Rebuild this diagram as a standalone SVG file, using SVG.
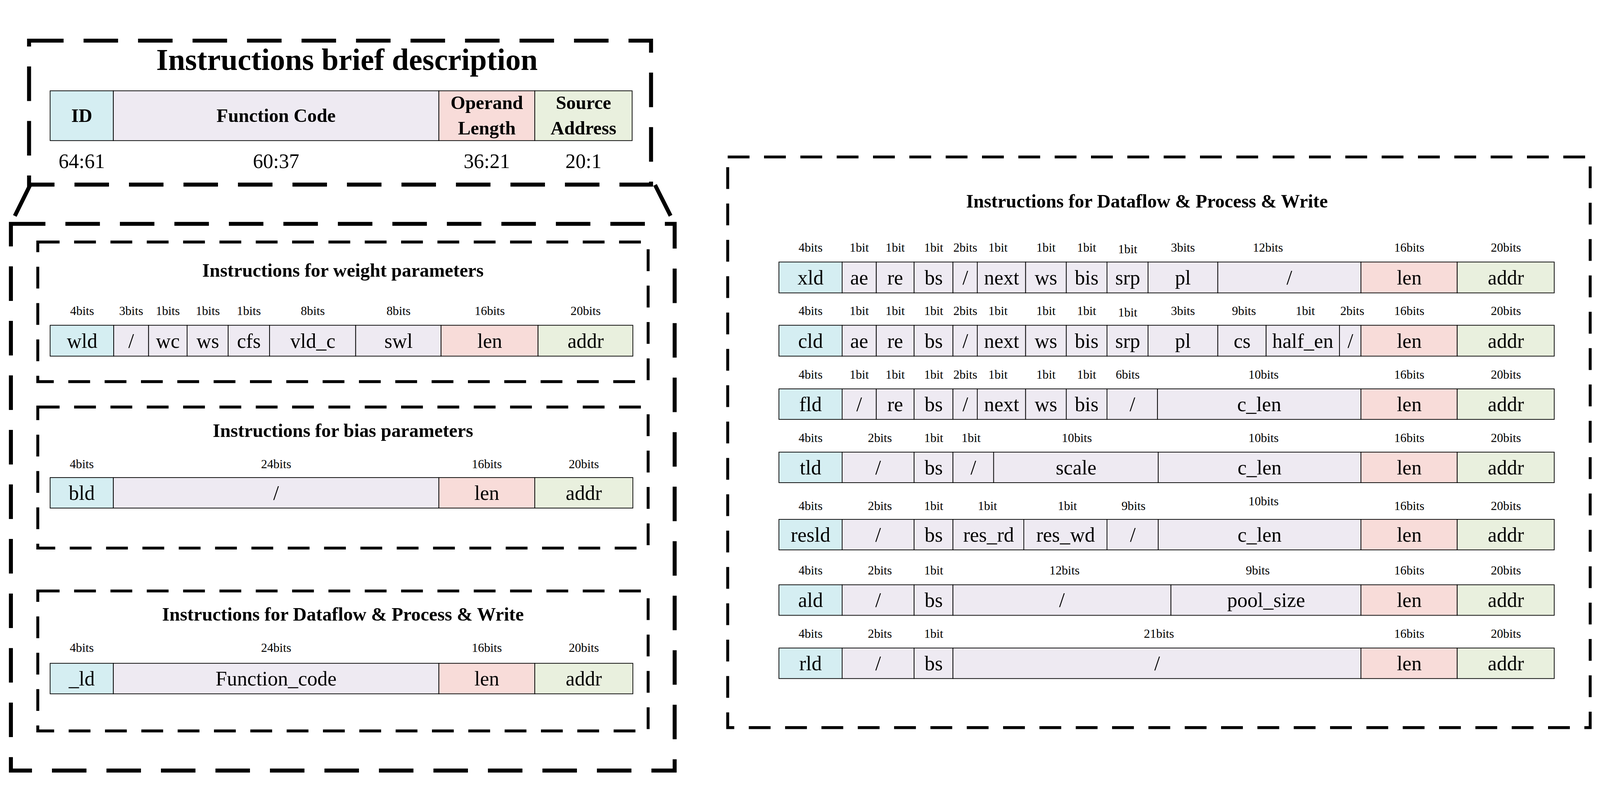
<svg xmlns="http://www.w3.org/2000/svg" width="4404" height="2070" viewBox="0 0 4404 2070" style="width:100vw;height:100vh;display:block" preserveAspectRatio="xMidYMid meet">
<style>
text{font-family:"Liberation Serif","Times New Roman",serif;fill:#000}
.c{fill:#d5eef2;stroke:#000;stroke-width:2}
.p{fill:#eeeaf2;stroke:#000;stroke-width:2}
.r{fill:#f8dcd9;stroke:#000;stroke-width:2}
.g{fill:#e9f0de;stroke:#000;stroke-width:2}
.t{font-size:56px;text-anchor:middle}
.b{font-size:34px;text-anchor:middle}
.h{font-size:52px;font-weight:bold;text-anchor:middle}
.box{fill:none;stroke:#000;stroke-width:8;stroke-dasharray:60 40}
.big{fill:none;stroke:#000;stroke-width:11;stroke-dasharray:95 55}
</style>
<g id="frames">
<rect class="big" x="80" y="34" width="1712" height="396"/>
<path class="big" d="M83 431 L30 538 M1803 431 L1857 538" stroke-dasharray="none"/>
<rect class="big" x="30" y="538" width="1827" height="1504"/>
<rect class="box" x="2003" y="354" width="2374" height="1570"/>
</g>
<g id="brief">
<text x="955" y="115" style="font-size:84px;font-weight:bold;text-anchor:middle">Instructions brief description</text>
<rect class="c" x="138" y="172" width="174" height="137"/>
<rect class="p" x="312" y="172" width="896" height="137"/>
<rect class="r" x="1208" y="172" width="264" height="137"/>
<rect class="g" x="1472" y="172" width="268" height="137"/>
<text class="h" x="225" y="258">ID</text>
<text class="h" x="760" y="258">Function Code</text>
<text class="h" x="1340" y="222">Operand</text>
<text class="h" x="1340" y="292">Length</text>
<text class="h" x="1606" y="222">Source</text>
<text class="h" x="1606" y="292">Address</text>
<text class="t" x="225" y="385">64:61</text>
<text class="t" x="760" y="385">60:37</text>
<text class="t" x="1340" y="385">36:21</text>
<text class="t" x="1606" y="385">20:1</text>
</g>
<g id="weight">
<rect class="box" x="104" y="588" width="1680" height="384"/>
<text class="h" x="944" y="683">Instructions for weight parameters</text>
<rect class="c" x="138" y="817" width="175" height="85"/><rect class="p" x="313" y="817" width="96" height="85"/><rect class="p" x="409" y="817" width="106" height="85"/><rect class="p" x="515" y="817" width="113" height="85"/><rect class="p" x="628" y="817" width="114" height="85"/><rect class="p" x="742" y="817" width="237" height="85"/><rect class="p" x="979" y="817" width="235" height="85"/><rect class="r" x="1214" y="817" width="267" height="85"/><rect class="g" x="1481" y="817" width="261" height="85"/>
<text class="t" x="226" y="879">wld</text><text class="t" x="361" y="879">/</text><text class="t" x="462" y="879">wc</text><text class="t" x="572" y="879">ws</text><text class="t" x="685" y="879">cfs</text><text class="t" x="861" y="879">vld_c</text><text class="t" x="1097" y="879">swl</text><text class="t" x="1348" y="879">len</text><text class="t" x="1612" y="879">addr</text>
<text class="b" x="226" y="789">4bits</text><text class="b" x="361" y="789">3bits</text><text class="b" x="462" y="789">1bits</text><text class="b" x="572" y="789">1bits</text><text class="b" x="685" y="789">1bits</text><text class="b" x="861" y="789">8bits</text><text class="b" x="1097" y="789">8bits</text><text class="b" x="1348" y="789">16bits</text><text class="b" x="1612" y="789">20bits</text>
</g>
<g id="bias">
<rect class="box" x="104" y="1042" width="1680" height="388"/>
<text class="h" x="944" y="1124">Instructions for bias parameters</text>
<rect class="c" x="138" y="1236" width="174" height="84"/><rect class="p" x="312" y="1236" width="896" height="84"/><rect class="r" x="1208" y="1236" width="264" height="84"/><rect class="g" x="1472" y="1236" width="270" height="84"/>
<text class="t" x="225" y="1297">bld</text><text class="t" x="760" y="1297">/</text><text class="t" x="1340" y="1297">len</text><text class="t" x="1607" y="1297">addr</text>
<text class="b" x="225" y="1210">4bits</text><text class="b" x="760" y="1210">24bits</text><text class="b" x="1340" y="1210">16bits</text><text class="b" x="1607" y="1210">20bits</text>
</g>
<g id="dpw-left">
<rect class="box" x="104" y="1548" width="1680" height="385"/>
<text class="h" x="944" y="1630">Instructions for Dataflow &amp; Process &amp; Write</text>
<rect class="c" x="138" y="1747" width="174" height="84"/><rect class="p" x="312" y="1747" width="896" height="84"/><rect class="r" x="1208" y="1747" width="264" height="84"/><rect class="g" x="1472" y="1747" width="270" height="84"/>
<text class="t" x="225" y="1808">_ld</text><text class="t" x="760" y="1808">Function_code</text><text class="t" x="1340" y="1808">len</text><text class="t" x="1607" y="1808">addr</text>
<text class="b" x="225" y="1716">4bits</text><text class="b" x="760" y="1716">24bits</text><text class="b" x="1340" y="1716">16bits</text><text class="b" x="1607" y="1716">20bits</text>
</g>
<g id="dpw-right">
<text class="h" x="3157" y="493">Instructions for Dataflow &amp; Process &amp; Write</text>
<rect class="c" x="2144" y="643" width="174" height="85"/><rect class="p" x="2318" y="643" width="94" height="85"/><rect class="p" x="2412" y="643" width="104" height="85"/><rect class="p" x="2516" y="643" width="107" height="85"/><rect class="p" x="2623" y="643" width="67" height="85"/><rect class="p" x="2690" y="643" width="133" height="85"/><rect class="p" x="2823" y="643" width="112" height="85"/><rect class="p" x="2935" y="643" width="112" height="85"/><rect class="p" x="3047" y="643" width="113" height="85"/><rect class="p" x="3160" y="643" width="192" height="85"/><rect class="p" x="3352" y="643" width="394" height="85"/><rect class="r" x="3746" y="643" width="265" height="85"/><rect class="g" x="4011" y="643" width="267" height="85"/>
<text class="t" x="2231" y="705">xld</text><text class="t" x="2365" y="705">ae</text><text class="t" x="2464" y="705">re</text><text class="t" x="2570" y="705">bs</text><text class="t" x="2657" y="705">/</text><text class="t" x="2757" y="705">next</text><text class="t" x="2879" y="705">ws</text><text class="t" x="2991" y="705">bis</text><text class="t" x="3104" y="705">srp</text><text class="t" x="3256" y="705">pl</text><text class="t" x="3549" y="705">/</text><text class="t" x="3879" y="705">len</text><text class="t" x="4145" y="705">addr</text>
<text class="b" x="2231" y="615">4bits</text><text class="b" x="2365" y="615">1bit</text><text class="b" x="2464" y="615">1bit</text><text class="b" x="2570" y="615">1bit</text><text class="b" x="2657" y="615">2bits</text><text class="b" x="2747" y="615">1bit</text><text class="b" x="2879" y="615">1bit</text><text class="b" x="2991" y="615">1bit</text><text class="b" x="3104" y="619">1bit</text><text class="b" x="3256" y="615">3bits</text><text class="b" x="3490" y="615">12bits</text><text class="b" x="3879" y="615">16bits</text><text class="b" x="4145" y="615">20bits</text>
<rect class="c" x="2144" y="817" width="174" height="85"/><rect class="p" x="2318" y="817" width="94" height="85"/><rect class="p" x="2412" y="817" width="104" height="85"/><rect class="p" x="2516" y="817" width="107" height="85"/><rect class="p" x="2623" y="817" width="67" height="85"/><rect class="p" x="2690" y="817" width="133" height="85"/><rect class="p" x="2823" y="817" width="112" height="85"/><rect class="p" x="2935" y="817" width="112" height="85"/><rect class="p" x="3047" y="817" width="113" height="85"/><rect class="p" x="3160" y="817" width="192" height="85"/><rect class="p" x="3352" y="817" width="133" height="85"/><rect class="p" x="3485" y="817" width="202" height="85"/><rect class="p" x="3687" y="817" width="59" height="85"/><rect class="r" x="3746" y="817" width="265" height="85"/><rect class="g" x="4011" y="817" width="267" height="85"/>
<text class="t" x="2231" y="879">cld</text><text class="t" x="2365" y="879">ae</text><text class="t" x="2464" y="879">re</text><text class="t" x="2570" y="879">bs</text><text class="t" x="2657" y="879">/</text><text class="t" x="2757" y="879">next</text><text class="t" x="2879" y="879">ws</text><text class="t" x="2991" y="879">bis</text><text class="t" x="3104" y="879">srp</text><text class="t" x="3256" y="879">pl</text><text class="t" x="3419" y="879">cs</text><text class="t" x="3586" y="879">half_en</text><text class="t" x="3717" y="879">/</text><text class="t" x="3879" y="879">len</text><text class="t" x="4145" y="879">addr</text>
<text class="b" x="2231" y="789">4bits</text><text class="b" x="2365" y="789">1bit</text><text class="b" x="2464" y="789">1bit</text><text class="b" x="2570" y="789">1bit</text><text class="b" x="2657" y="789">2bits</text><text class="b" x="2747" y="789">1bit</text><text class="b" x="2879" y="789">1bit</text><text class="b" x="2991" y="789">1bit</text><text class="b" x="3104" y="793">1bit</text><text class="b" x="3256" y="789">3bits</text><text class="b" x="3424" y="789">9bits</text><text class="b" x="3593" y="789">1bit</text><text class="b" x="3722" y="789">2bits</text><text class="b" x="3879" y="789">16bits</text><text class="b" x="4145" y="789">20bits</text>
<rect class="c" x="2144" y="992" width="174" height="84"/><rect class="p" x="2318" y="992" width="94" height="84"/><rect class="p" x="2412" y="992" width="104" height="84"/><rect class="p" x="2516" y="992" width="107" height="84"/><rect class="p" x="2623" y="992" width="67" height="84"/><rect class="p" x="2690" y="992" width="133" height="84"/><rect class="p" x="2823" y="992" width="112" height="84"/><rect class="p" x="2935" y="992" width="112" height="84"/><rect class="p" x="3047" y="992" width="139" height="84"/><rect class="p" x="3186" y="992" width="560" height="84"/><rect class="r" x="3746" y="992" width="265" height="84"/><rect class="g" x="4011" y="992" width="267" height="84"/>
<text class="t" x="2231" y="1053">fld</text><text class="t" x="2365" y="1053">/</text><text class="t" x="2464" y="1053">re</text><text class="t" x="2570" y="1053">bs</text><text class="t" x="2657" y="1053">/</text><text class="t" x="2757" y="1053">next</text><text class="t" x="2879" y="1053">ws</text><text class="t" x="2991" y="1053">bis</text><text class="t" x="3117" y="1053">/</text><text class="t" x="3466" y="1053">c_len</text><text class="t" x="3879" y="1053">len</text><text class="t" x="4145" y="1053">addr</text>
<text class="b" x="2231" y="964">4bits</text><text class="b" x="2365" y="964">1bit</text><text class="b" x="2464" y="964">1bit</text><text class="b" x="2570" y="964">1bit</text><text class="b" x="2657" y="964">2bits</text><text class="b" x="2747" y="964">1bit</text><text class="b" x="2879" y="964">1bit</text><text class="b" x="2991" y="964">1bit</text><text class="b" x="3104" y="964">6bits</text><text class="b" x="3478" y="964">10bits</text><text class="b" x="3879" y="964">16bits</text><text class="b" x="4145" y="964">20bits</text>
<rect class="c" x="2144" y="1166" width="174" height="84"/><rect class="p" x="2318" y="1166" width="198" height="84"/><rect class="p" x="2516" y="1166" width="107" height="84"/><rect class="p" x="2623" y="1166" width="112" height="84"/><rect class="p" x="2735" y="1166" width="453" height="84"/><rect class="p" x="3188" y="1166" width="558" height="84"/><rect class="r" x="3746" y="1166" width="265" height="84"/><rect class="g" x="4011" y="1166" width="267" height="84"/>
<text class="t" x="2231" y="1227">tld</text><text class="t" x="2417" y="1227">/</text><text class="t" x="2570" y="1227">bs</text><text class="t" x="2679" y="1227">/</text><text class="t" x="2962" y="1227">scale</text><text class="t" x="3467" y="1227">c_len</text><text class="t" x="3879" y="1227">len</text><text class="t" x="4145" y="1227">addr</text>
<text class="b" x="2231" y="1138">4bits</text><text class="b" x="2422" y="1138">2bits</text><text class="b" x="2570" y="1138">1bit</text><text class="b" x="2673" y="1138">1bit</text><text class="b" x="2964" y="1138">10bits</text><text class="b" x="3478" y="1138">10bits</text><text class="b" x="3879" y="1138">16bits</text><text class="b" x="4145" y="1138">20bits</text>
<rect class="c" x="2144" y="1351" width="174" height="84"/><rect class="p" x="2318" y="1351" width="198" height="84"/><rect class="p" x="2516" y="1351" width="107" height="84"/><rect class="p" x="2623" y="1351" width="195" height="84"/><rect class="p" x="2818" y="1351" width="229" height="84"/><rect class="p" x="3047" y="1351" width="141" height="84"/><rect class="p" x="3188" y="1351" width="558" height="84"/><rect class="r" x="3746" y="1351" width="265" height="84"/><rect class="g" x="4011" y="1351" width="267" height="84"/>
<text class="t" x="2231" y="1412">resld</text><text class="t" x="2417" y="1412">/</text><text class="t" x="2570" y="1412">bs</text><text class="t" x="2721" y="1412">res_rd</text><text class="t" x="2933" y="1412">res_wd</text><text class="t" x="3118" y="1412">/</text><text class="t" x="3467" y="1412">c_len</text><text class="t" x="3879" y="1412">len</text><text class="t" x="4145" y="1412">addr</text>
<text class="b" x="2231" y="1325">4bits</text><text class="b" x="2422" y="1325">2bits</text><text class="b" x="2570" y="1325">1bit</text><text class="b" x="2718" y="1325">1bit</text><text class="b" x="2938" y="1325">1bit</text><text class="b" x="3120" y="1325">9bits</text><text class="b" x="3478" y="1312">10bits</text><text class="b" x="3879" y="1325">16bits</text><text class="b" x="4145" y="1325">20bits</text>
<rect class="c" x="2144" y="1531" width="174" height="84"/><rect class="p" x="2318" y="1531" width="198" height="84"/><rect class="p" x="2516" y="1531" width="107" height="84"/><rect class="p" x="2623" y="1531" width="600" height="84"/><rect class="p" x="3223" y="1531" width="523" height="84"/><rect class="r" x="3746" y="1531" width="265" height="84"/><rect class="g" x="4011" y="1531" width="267" height="84"/>
<text class="t" x="2231" y="1592">ald</text><text class="t" x="2417" y="1592">/</text><text class="t" x="2570" y="1592">bs</text><text class="t" x="2923" y="1592">/</text><text class="t" x="3485" y="1592">pool_size</text><text class="t" x="3879" y="1592">len</text><text class="t" x="4145" y="1592">addr</text>
<text class="b" x="2231" y="1503">4bits</text><text class="b" x="2422" y="1503">2bits</text><text class="b" x="2570" y="1503">1bit</text><text class="b" x="2930" y="1503">12bits</text><text class="b" x="3462" y="1503">9bits</text><text class="b" x="3879" y="1503">16bits</text><text class="b" x="4145" y="1503">20bits</text>
<rect class="c" x="2144" y="1705" width="174" height="84"/><rect class="p" x="2318" y="1705" width="198" height="84"/><rect class="p" x="2516" y="1705" width="107" height="84"/><rect class="p" x="2623" y="1705" width="1123" height="84"/><rect class="r" x="3746" y="1705" width="265" height="84"/><rect class="g" x="4011" y="1705" width="267" height="84"/>
<text class="t" x="2231" y="1766">rld</text><text class="t" x="2417" y="1766">/</text><text class="t" x="2570" y="1766">bs</text><text class="t" x="3185" y="1766">/</text><text class="t" x="3879" y="1766">len</text><text class="t" x="4145" y="1766">addr</text>
<text class="b" x="2231" y="1677">4bits</text><text class="b" x="2422" y="1677">2bits</text><text class="b" x="2570" y="1677">1bit</text><text class="b" x="3190" y="1677">21bits</text><text class="b" x="3879" y="1677">16bits</text><text class="b" x="4145" y="1677">20bits</text>
</g>
<g id="connectors"></g>
</svg>
